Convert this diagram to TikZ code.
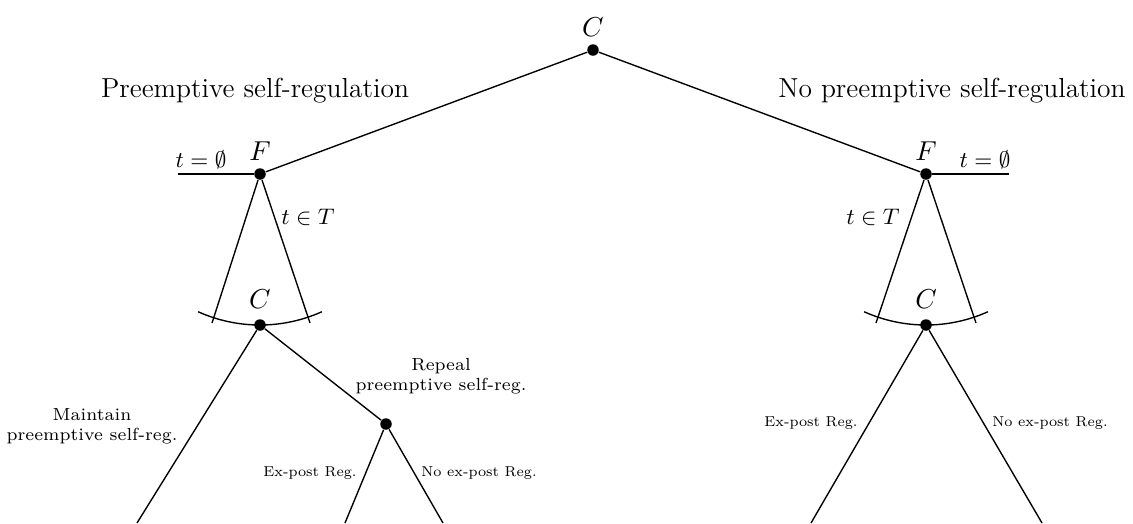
\documentclass[tikz,border=0pt]{standalone}
\begin{document}
\begin{tikzpicture}[x=0.4pt,y=-0.4pt,
  dot/.style={circle,fill=black,inner sep=0pt,minimum size=4.6pt},
  edge/.style={line width=0.55pt},
  big/.style={font=\fontsize{11}{13}\selectfont},
  plab/.style={font=\fontsize{11}{13}\selectfont},
  mlab/.style={font=\small},
  small/.style={font=\scriptsize,align=center},
  tiny/.style={font=\scriptsize,inner sep=1pt}]
\useasboundingbox (0,0) rectangle (1133,523);
% nodes
\node[dot] (c0) at (593,50) {};
\node[dot] (fl) at (260,174) {};
\node[dot] (fr) at (926,174) {};
\node[dot] (cl) at (260,325) {};
\node[dot] (cr) at (926,325) {};
\node[dot] (rp) at (386,424) {};
% free ends
\coordinate (el) at (178,174);
\coordinate (er) at (1009,174);
\coordinate (tl1) at (212,323);
\coordinate (tl2) at (310,323);
\coordinate (tr1) at (876,323);
\coordinate (tr2) at (976,323);
\coordinate (b1) at (137,523);
\coordinate (b2) at (345,523);
\coordinate (b3) at (443,523);
\coordinate (b4) at (811,523);
\coordinate (b5) at (1042,523);
% edges
\draw[edge] (c0) -- (fl);
\draw[edge] (c0) -- (fr);
\draw[edge] (fl) -- (el);
\draw[edge] (fr) -- (er);
\draw[edge] (fl) -- (tl1);
\draw[edge] (fl) -- (tl2);
\draw[edge] (fr) -- (tr1);
\draw[edge] (fr) -- (tr2);
\draw[edge] (fl.center) ++(114.2:151) arc[start angle=-114.2,end angle=-65.8,radius=60.4pt];
\draw[edge] (fr.center) ++(114.2:151) arc[start angle=-114.2,end angle=-65.8,radius=60.4pt];
\draw[edge] (cl) -- (b1);
\draw[edge] (cl) -- (rp);
\draw[edge] (rp) -- (b2);
\draw[edge] (rp) -- (b3);
\draw[edge] (cr) -- (b4);
\draw[edge] (cr) -- (b5);
% labels
\node[plab] (lc0) at (593,27) {$C$};
\node[plab] (lfl) at (260,151) {$F$};
\node[plab] (lfr) at (926,151) {$F$};
\node[plab] (lcl) at (260,299) {$C$};
\node[plab] (lcr) at (926,299) {$C$};
\node[mlab] (lt1) at (201,160) {$t=\emptyset$};
\node[mlab] (lt2) at (985,160) {$t=\emptyset$};
\node[mlab] (lt3) at (308,217) {$t\in T$};
\node[mlab] (lt4) at (873,217) {$t\in T$};
\node[big] (lpre) at (255,91) {Preemptive self-regulation};
\node[big] (lnop) at (952,91) {No preemptive self-regulation};
\node[small] (lmain) at (92,426) {Maintain\\preemptive self-reg.};
\node[small] (lrep) at (441,376) {Repeal\\preemptive self-reg.};
\node[tiny] (lex1) at (310,473) {\scalebox{0.82}{Ex-post Reg.}};
\node[tiny] (lno1) at (479,473) {\scalebox{0.82}{No ex-post Reg.}};
\node[tiny] (lex2) at (811,423) {\scalebox{0.82}{Ex-post Reg.}};
\node[tiny] (lno2) at (1050,423) {\scalebox{0.82}{No ex-post Reg.}};
\end{tikzpicture}
\end{document}
